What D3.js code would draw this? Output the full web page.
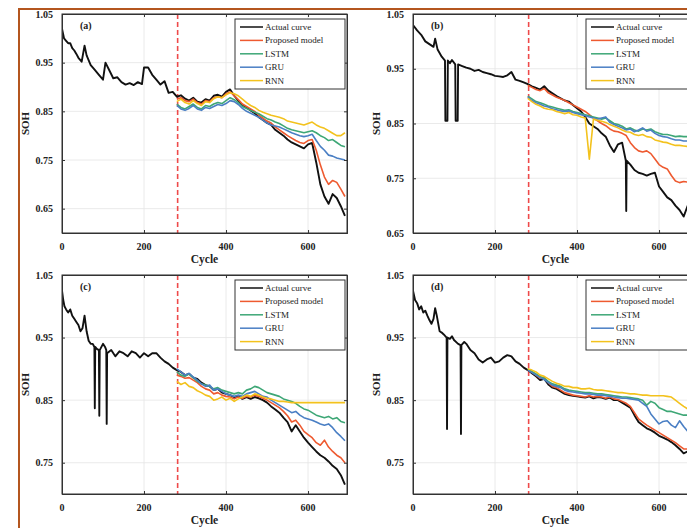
<!DOCTYPE html>
<html>
<head>
<meta charset="utf-8">
<script src="https://cdn.jsdelivr.net/npm/d3@7"></script>
<style>
  body { margin: 0; background: #fff; }
  svg { display: block; }
  text { font-family: "Liberation Serif", "Times New Roman", serif; }
</style>
</head>
<body>
<svg id="chart" width="687" height="528"></svg>
<script>
// ---- data: [cycle, SOH] ----
const actualA = [[0,1.02],[5,1.0],[10,0.995],[15,0.99],[20,0.99],[25,0.98],[30,0.975],[35,0.968],[40,0.96],[48,0.952],[55,0.985],[60,0.965],[70,0.945],[80,0.935],[90,0.925],[100,0.915],[106,0.95],[115,0.935],[125,0.918],[135,0.92],[145,0.91],[155,0.905],[165,0.908],[175,0.904],[185,0.91],[195,0.906],[200,0.94],[210,0.94],[220,0.925],[230,0.915],[240,0.905],[250,0.912],[260,0.888],[270,0.89],[280,0.88],[290,0.883],[300,0.876],[310,0.872],[320,0.878],[330,0.87],[340,0.868],[350,0.875],[360,0.872],[370,0.882],[380,0.884],[390,0.88],[400,0.89],[410,0.895],[420,0.882],[430,0.872],[440,0.862],[450,0.858],[460,0.852],[470,0.846],[480,0.838],[490,0.832],[500,0.826],[510,0.822],[520,0.812],[530,0.806],[540,0.8],[550,0.792],[560,0.786],[570,0.782],[580,0.778],[590,0.774],[600,0.782],[610,0.785],[620,0.745],[630,0.7],[640,0.675],[650,0.66],[660,0.68],[670,0.672],[680,0.655],[690,0.635]];
const actualB = [[0,1.03],[10,1.02],[20,1.012],[30,1.0],[40,0.995],[50,0.99],[54,1.005],[60,0.985],[70,0.972],[78,0.965],[79,0.855],[84,0.855],[85,0.965],[90,0.96],[95,0.966],[103,0.958],[104,0.855],[109,0.855],[110,0.958],[120,0.955],[130,0.952],[140,0.95],[150,0.946],[160,0.948],[170,0.944],[180,0.942],[190,0.94],[200,0.937],[210,0.936],[220,0.935],[230,0.938],[240,0.944],[250,0.93],[260,0.928],[270,0.925],[280,0.922],[290,0.918],[300,0.915],[310,0.912],[320,0.918],[330,0.91],[340,0.905],[350,0.9],[360,0.896],[370,0.892],[380,0.89],[390,0.884],[400,0.878],[410,0.872],[420,0.862],[430,0.85],[440,0.845],[450,0.84],[460,0.832],[470,0.826],[480,0.81],[490,0.798],[500,0.812],[510,0.815],[519,0.782],[520,0.69],[521,0.782],[530,0.775],[540,0.765],[550,0.76],[560,0.758],[570,0.755],[580,0.758],[590,0.76],[600,0.735],[610,0.725],[620,0.715],[630,0.71],[640,0.7],[650,0.692],[660,0.68],[670,0.7],[680,0.695],[690,0.69]];
const actualC = [[0,1.025],[3,1.01],[6,1.0],[10,0.995],[15,0.99],[20,0.995],[25,0.985],[30,0.98],[35,0.975],[40,0.97],[45,0.96],[50,0.965],[55,0.985],[60,0.96],[65,0.945],[70,0.94],[75,0.94],[79,0.935],[80,0.837],[81,0.935],[85,0.932],[90,0.93],[91,0.825],[92,0.93],[100,0.94],[105,0.935],[108,0.93],[109,0.812],[110,0.925],[120,0.93],[130,0.92],[140,0.928],[150,0.925],[160,0.92],[170,0.928],[180,0.925],[190,0.918],[200,0.925],[210,0.92],[220,0.925],[230,0.925],[240,0.918],[250,0.912],[260,0.908],[270,0.902],[280,0.898],[290,0.895],[300,0.89],[310,0.892],[320,0.886],[330,0.884],[340,0.878],[350,0.874],[360,0.872],[370,0.866],[380,0.868],[390,0.862],[400,0.86],[410,0.858],[420,0.855],[430,0.856],[440,0.852],[450,0.855],[460,0.852],[470,0.855],[480,0.853],[490,0.85],[500,0.846],[510,0.84],[520,0.835],[530,0.83],[540,0.822],[550,0.815],[560,0.8],[565,0.805],[570,0.81],[580,0.8],[590,0.79],[600,0.782],[610,0.775],[620,0.768],[630,0.762],[640,0.758],[650,0.752],[660,0.745],[670,0.74],[680,0.73],[690,0.715]];
const actualD = [[0,1.025],[5,1.01],[10,1.005],[15,0.995],[20,1.0],[25,0.99],[30,0.993],[35,0.985],[40,0.978],[45,0.972],[50,0.98],[54,0.997],[58,0.985],[65,0.96],[70,0.958],[75,0.955],[82,0.95],[83,0.804],[84,0.95],[90,0.948],[95,0.952],[100,0.946],[110,0.94],[116,0.938],[117,0.796],[118,0.938],[125,0.943],[130,0.94],[140,0.93],[150,0.925],[160,0.915],[170,0.91],[180,0.915],[190,0.918],[200,0.91],[210,0.912],[220,0.918],[230,0.922],[240,0.92],[250,0.912],[260,0.908],[270,0.902],[280,0.898],[290,0.893],[300,0.888],[310,0.882],[320,0.884],[330,0.875],[340,0.87],[350,0.868],[360,0.864],[370,0.86],[380,0.858],[390,0.857],[400,0.856],[410,0.855],[420,0.854],[430,0.856],[440,0.853],[450,0.855],[460,0.854],[470,0.852],[480,0.854],[490,0.85],[500,0.85],[510,0.846],[520,0.842],[530,0.838],[540,0.826],[550,0.815],[560,0.81],[570,0.805],[580,0.802],[590,0.798],[600,0.793],[610,0.79],[620,0.787],[630,0.783],[640,0.778],[650,0.772],[660,0.765],[670,0.768],[680,0.765],[690,0.762]];

// predictions start at the split and share one cycle grid
const predCycles = [280,290,300,310,320,330,340,350,360,370,380,390,400,410,420,430,440,450,460,470,480,490,500,510,520,530,540,550,560,570,580,590,600,610,620,630,640,650,660,670,680,690];

const proposedA = [0.875,0.878,0.872,0.87,0.875,0.868,0.865,0.872,0.87,0.878,0.88,0.878,0.886,0.89,0.882,0.874,0.865,0.86,0.855,0.85,0.842,0.836,0.83,0.826,0.818,0.812,0.806,0.8,0.795,0.79,0.786,0.784,0.79,0.792,0.77,0.74,0.715,0.7,0.708,0.704,0.69,0.675];
const lstmA = [0.865,0.858,0.855,0.86,0.865,0.858,0.855,0.862,0.86,0.865,0.868,0.866,0.872,0.878,0.874,0.868,0.86,0.856,0.852,0.848,0.845,0.84,0.835,0.832,0.828,0.825,0.82,0.815,0.812,0.81,0.808,0.806,0.808,0.81,0.806,0.8,0.796,0.79,0.792,0.786,0.78,0.777];
const gruA = [0.862,0.855,0.852,0.856,0.862,0.855,0.852,0.858,0.856,0.86,0.864,0.862,0.866,0.872,0.87,0.864,0.856,0.85,0.846,0.842,0.838,0.832,0.826,0.822,0.82,0.818,0.814,0.81,0.806,0.803,0.8,0.798,0.8,0.803,0.79,0.778,0.77,0.76,0.758,0.754,0.752,0.75];
const rnnA = [0.87,0.875,0.868,0.865,0.872,0.866,0.862,0.87,0.868,0.876,0.88,0.878,0.884,0.888,0.886,0.882,0.875,0.868,0.862,0.858,0.852,0.848,0.845,0.842,0.84,0.838,0.835,0.83,0.828,0.826,0.824,0.822,0.825,0.828,0.822,0.818,0.815,0.81,0.805,0.8,0.8,0.806];

const proposedB = [0.92,0.916,0.912,0.91,0.914,0.906,0.902,0.898,0.895,0.892,0.888,0.884,0.88,0.876,0.872,0.866,0.86,0.855,0.85,0.846,0.84,0.836,0.835,0.832,0.828,0.815,0.806,0.8,0.798,0.8,0.795,0.785,0.775,0.77,0.767,0.755,0.745,0.742,0.744,0.743,0.745,0.744];
const lstmB = [0.9,0.895,0.89,0.888,0.885,0.882,0.88,0.878,0.876,0.874,0.875,0.872,0.87,0.868,0.866,0.864,0.862,0.86,0.858,0.86,0.855,0.85,0.848,0.845,0.84,0.842,0.838,0.836,0.84,0.838,0.84,0.835,0.832,0.83,0.83,0.828,0.826,0.827,0.826,0.826,0.825,0.825];
const gruB = [0.898,0.892,0.888,0.885,0.882,0.88,0.877,0.875,0.873,0.872,0.873,0.87,0.868,0.866,0.864,0.862,0.86,0.858,0.86,0.862,0.852,0.848,0.845,0.842,0.838,0.84,0.835,0.838,0.842,0.836,0.838,0.832,0.828,0.826,0.825,0.822,0.82,0.82,0.818,0.818,0.817,0.816];
const rnnB = [0.896,0.89,0.885,0.882,0.878,0.876,0.875,0.872,0.87,0.868,0.87,0.866,0.865,0.862,0.86,0.785,0.858,0.856,0.854,0.852,0.848,0.845,0.842,0.838,0.835,0.834,0.83,0.828,0.83,0.826,0.825,0.82,0.818,0.816,0.815,0.812,0.81,0.81,0.809,0.808,0.81,0.81];

const proposedC = [0.89,0.888,0.885,0.886,0.882,0.878,0.872,0.868,0.866,0.86,0.862,0.858,0.856,0.855,0.852,0.855,0.853,0.856,0.855,0.858,0.856,0.853,0.85,0.846,0.842,0.838,0.832,0.825,0.815,0.818,0.81,0.8,0.795,0.79,0.782,0.778,0.786,0.775,0.768,0.762,0.758,0.75];
const lstmC = [0.895,0.89,0.888,0.892,0.886,0.88,0.876,0.874,0.872,0.868,0.87,0.866,0.864,0.862,0.86,0.862,0.86,0.866,0.868,0.872,0.87,0.866,0.862,0.86,0.858,0.856,0.852,0.85,0.848,0.845,0.84,0.836,0.834,0.83,0.826,0.824,0.822,0.824,0.82,0.822,0.816,0.814];
const gruC = [0.9,0.895,0.89,0.893,0.887,0.882,0.876,0.872,0.874,0.866,0.868,0.864,0.86,0.858,0.856,0.858,0.856,0.86,0.862,0.864,0.86,0.856,0.855,0.85,0.846,0.842,0.838,0.834,0.83,0.832,0.826,0.822,0.82,0.818,0.815,0.812,0.81,0.812,0.806,0.798,0.792,0.785];
const rnnC = [0.88,0.875,0.878,0.872,0.87,0.865,0.862,0.858,0.856,0.85,0.852,0.855,0.85,0.853,0.848,0.852,0.855,0.858,0.856,0.86,0.858,0.855,0.853,0.852,0.85,0.848,0.848,0.847,0.846,0.846,0.846,0.846,0.846,0.846,0.846,0.846,0.846,0.846,0.846,0.846,0.846,0.846];

const proposedD = [0.898,0.895,0.89,0.885,0.886,0.878,0.872,0.87,0.866,0.862,0.86,0.858,0.857,0.856,0.855,0.857,0.855,0.856,0.855,0.853,0.855,0.852,0.851,0.848,0.845,0.84,0.83,0.82,0.815,0.81,0.806,0.802,0.798,0.794,0.79,0.786,0.782,0.777,0.772,0.772,0.77,0.768];
const lstmD = [0.9,0.896,0.892,0.888,0.885,0.88,0.876,0.874,0.872,0.868,0.866,0.865,0.864,0.863,0.862,0.862,0.861,0.86,0.86,0.859,0.858,0.857,0.856,0.855,0.855,0.854,0.853,0.852,0.85,0.842,0.848,0.845,0.838,0.835,0.832,0.832,0.83,0.828,0.826,0.826,0.825,0.825];
const gruD = [0.898,0.894,0.89,0.886,0.883,0.878,0.874,0.872,0.87,0.866,0.864,0.863,0.862,0.861,0.86,0.86,0.859,0.858,0.858,0.857,0.856,0.855,0.854,0.853,0.853,0.852,0.851,0.85,0.845,0.84,0.828,0.82,0.812,0.816,0.817,0.81,0.806,0.817,0.808,0.8,0.798,0.796];
const rnnD = [0.9,0.898,0.895,0.89,0.888,0.884,0.88,0.877,0.875,0.872,0.872,0.87,0.87,0.868,0.868,0.869,0.867,0.866,0.866,0.865,0.864,0.863,0.862,0.862,0.861,0.86,0.86,0.859,0.858,0.858,0.857,0.857,0.857,0.857,0.856,0.855,0.85,0.845,0.84,0.836,0.834,0.835];

const seriesNames = ["Actual curve", "Proposed model", "LSTM", "GRU", "RNN"];
const seriesColors = ["#111111", "#ee5a30", "#3ea776", "#4a7fc4", "#f3c21d"];
const xTicks = [0, 200, 400, 600];
const yTicksAB = [0.65, 0.75, 0.85, 0.95, 1.05];
const yTicksCD = [0.75, 0.85, 0.95, 1.05];
const splitCycle = 282;

const panels = [
  { label: "(a)", actual: actualA, preds: [proposedA, lstmA, gruA, rnnA], yDomain: [0.6, 1.05], yTicks: yTicksAB, left: 62, top: 14 },
  { label: "(b)", actual: actualB, preds: [proposedB, lstmB, gruB, rnnB], yDomain: [0.65, 1.05], yTicks: yTicksAB, left: 413, top: 14 },
  { label: "(c)", actual: actualC, preds: [proposedC, lstmC, gruC, rnnC], yDomain: [0.7, 1.05], yTicks: yTicksCD, left: 62, top: 275 },
  { label: "(d)", actual: actualD, preds: [proposedD, lstmD, gruD, rnnD], yDomain: [0.7, 1.05], yTicks: yTicksCD, left: 413, top: 275 }
];

const svg = d3.select("#chart");
svg.append("rect").attr("width", 687).attr("height", 528).attr("fill", "#fff");

// brown page frame on top and left
svg.append("path")
  .attr("d", "M19,528 L19,9 L687,9")
  .attr("fill", "none")
  .attr("stroke", "#b4561f")
  .attr("stroke-width", 2);

const plotW = 285, plotH = 219;
const fmt = d3.format(".2f");

panels.forEach((p, i) => {
  const g = svg.append("g").attr("transform", `translate(${p.left},${p.top})`);
  const x = d3.scaleLinear().domain([0, 695]).range([0, plotW]);
  const y = d3.scaleLinear().domain(p.yDomain).range([plotH, 0]);

  g.append("clipPath").attr("id", "clip" + i)
    .append("rect").attr("width", plotW).attr("height", plotH);

  // grid
  g.append("g").selectAll("line").data(xTicks.slice(1)).join("line")
    .attr("x1", d => x(d)).attr("x2", d => x(d)).attr("y1", 0).attr("y2", plotH)
    .attr("stroke", "#e4e4e4").attr("stroke-width", 0.8);
  g.append("g").selectAll("line").data(p.yTicks).join("line")
    .attr("x1", 0).attr("x2", plotW).attr("y1", d => y(d)).attr("y2", d => y(d))
    .attr("stroke", "#e4e4e4").attr("stroke-width", 0.8);

  // split marker
  g.append("line")
    .attr("x1", x(splitCycle)).attr("x2", x(splitCycle))
    .attr("y1", 0).attr("y2", plotH)
    .attr("stroke", "#ee4a4a").attr("stroke-width", 1.6)
    .attr("stroke-dasharray", "5,3");

  const line = d3.line().x(d => x(d[0])).y(d => y(d[1]));
  const lines = g.append("g").attr("clip-path", `url(#clip${i})`);
  lines.append("path").attr("d", line(p.actual))
    .attr("fill", "none").attr("stroke", seriesColors[0]).attr("stroke-width", 1.9)
    .attr("stroke-linejoin", "round");
  p.preds.forEach((vals, k) => {
    lines.append("path").attr("d", line(d3.zip(predCycles, vals)))
      .attr("fill", "none").attr("stroke", seriesColors[k + 1]).attr("stroke-width", 1.6)
      .attr("stroke-linejoin", "round");
  });

  // axes: inward ticks on all four sides, box frame
  const tick = 3;
  g.append("g").call(d3.axisBottom(x).tickValues(xTicks).tickSize(-tick).tickFormat(""))
    .attr("transform", `translate(0,${plotH})`);
  g.append("g").call(d3.axisTop(x).tickValues(xTicks).tickSize(-tick).tickFormat(""));
  g.append("g").call(d3.axisLeft(y).tickValues(p.yTicks).tickSize(-tick).tickFormat(""));
  g.append("g").call(d3.axisRight(y).tickValues(p.yTicks).tickSize(-tick).tickFormat(""))
    .attr("transform", `translate(${plotW},0)`);
  g.selectAll(".domain, .tick line").attr("stroke", "#333");
  g.append("rect").attr("width", plotW).attr("height", plotH)
    .attr("fill", "none").attr("stroke", "#333").attr("stroke-width", 1);

  // tick labels
  g.append("g").selectAll("text").data(xTicks).join("text")
    .attr("x", d => x(d)).attr("y", plotH + 17)
    .attr("text-anchor", "middle").attr("font-size", 10).attr("font-weight", "bold")
    .attr("fill", "#222").text(d => d);
  g.append("g").selectAll("text").data(p.yTicks).join("text")
    .attr("x", -9).attr("y", d => y(d) + 3.5)
    .attr("text-anchor", "end").attr("font-size", 10).attr("font-weight", "bold")
    .attr("fill", "#222").text(d => fmt(d));

  g.append("text").attr("x", plotW / 2).attr("y", plotH + 30)
    .attr("text-anchor", "middle").attr("font-size", 11.5).attr("font-weight", "bold")
    .attr("fill", "#222").text("Cycle");
  g.append("text")
    .attr("transform", `translate(-33,${plotH / 2}) rotate(-90)`)
    .attr("text-anchor", "middle").attr("font-size", 11).attr("font-weight", "bold")
    .attr("fill", "#222").text("SOH");

  g.append("text").attr("x", 18).attr("y", 15)
    .attr("font-size", 10).attr("font-weight", "bold").attr("fill", "#222").text(p.label);

  // legend
  const lg = g.append("g").attr("transform", `translate(${plotW - 112},5)`);
  lg.append("rect").attr("width", 110).attr("height", 70)
    .attr("fill", "#fff").attr("stroke", "#333").attr("stroke-width", 1);
  seriesNames.forEach((name, k) => {
    const yy = 8 + k * 13.4;
    lg.append("line").attr("x1", 5).attr("x2", 28).attr("y1", yy).attr("y2", yy)
      .attr("stroke", seriesColors[k]).attr("stroke-width", 1.5);
    lg.append("text").attr("x", 30).attr("y", yy + 3)
      .attr("font-size", 9).attr("fill", "#222").text(name);
  });
});
</script>
</body>
</html>
